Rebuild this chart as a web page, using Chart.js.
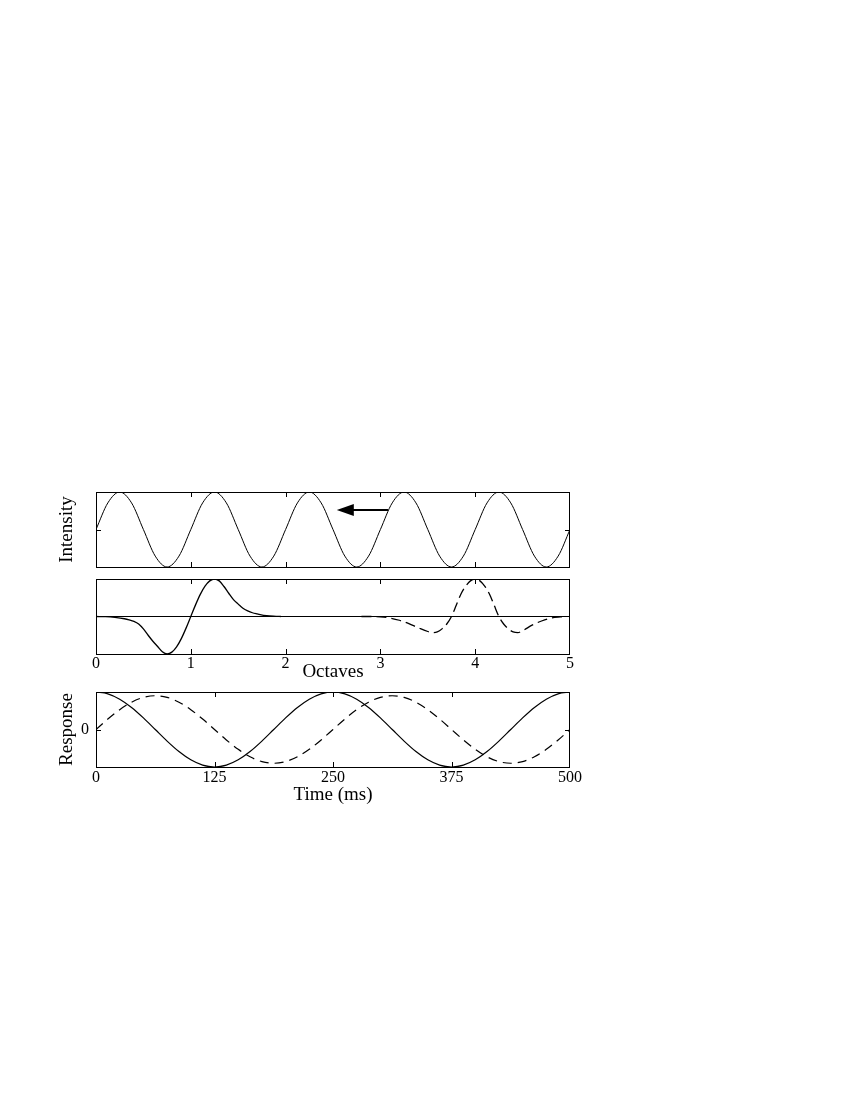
<!DOCTYPE html>
<html>
<head>
<meta charset="utf-8">
<script src="https://cdn.jsdelivr.net/npm/chart.js@4/dist/chart.umd.min.js"></script>
<style>
  html, body { margin: 0; padding: 0; background: #fff; width: 850px; height: 1100px; overflow: hidden; }
  canvas { position: absolute; left: 0; }
</style>
</head>
<body>
<canvas id="c1" width="850" height="105" style="top:470px"></canvas>
<canvas id="c2" width="850" height="115" style="top:575px"></canvas>
<canvas id="c3" width="850" height="130" style="top:690px"></canvas>
<script>
// ---------- DATA ----------
const octaveTicks = [0, 1, 2, 3, 4, 5];
const timeTicks = [0, 125, 250, 375, 500];
const intensityYTicks = [-1, 0, 1];
const responseYTicks = [-1, -0.5, 0, 0.5, 1];
const responseYLabels = ['', '', '0', '', ''];

// Panel 1: stimulus intensity (octaves)
const intensityX = [0,0.125,0.25,0.375,0.5,0.625,0.75,0.875,1,1.125,1.25,1.375,1.5,1.625,1.75,1.875,2,2.125,2.25,2.375,2.5,2.625,2.75,2.875,3,3.125,3.25,3.375,3.5,3.625,3.75,3.875,4,4.125,4.25,4.375,4.5,4.625,4.75,4.875,5];
const intensityY = [0,0.71,1,0.71,0,-0.71,-1,-0.71, 0,0.71,1,0.71,0,-0.71,-1,-0.71, 0,0.71,1,0.71,0,-0.71,-1,-0.71, 0,0.71,1,0.71,0,-0.71,-1,-0.71, 0,0.71,1,0.71,0,-0.71,-1,-0.71, 0];
// arrow (data units)
const arrowFrom = [3.08, 0.52];
const arrowTo = [2.54, 0.52];

// Panel 2: spectral response fields (octaves)
const solidFieldX = [0,0.1,0.2,0.3,0.35,0.4,0.45,0.5,0.55,0.6,0.65,0.7,0.75,0.8,0.85,0.9,0.95,1.0,1.05,1.1,1.15,1.2,1.25,1.3,1.35,1.4,1.45,1.5,1.55,1.6,1.65,1.7,1.8,1.9,1.95];
const solidFieldY = [0,-0.005,-0.025,-0.06,-0.09,-0.13,-0.2,-0.33,-0.5,-0.66,-0.8,-0.94,-1,-0.95,-0.81,-0.59,-0.31,0,0.31,0.59,0.81,0.95,1,0.95,0.8,0.62,0.45,0.33,0.22,0.15,0.1,0.07,0.02,0.005,0];
const dashedFieldX = [2.8,2.9,3.0,3.1,3.2,3.3,3.4,3.5,3.55,3.6,3.65,3.7,3.75,3.8,3.85,3.9,3.95,4.0,4.05,4.1,4.15,4.2,4.25,4.3,4.35,4.4,4.45,4.5,4.6,4.7,4.8,4.9,4.95];
const dashedFieldY = [0,0,-0.01,-0.04,-0.1,-0.19,-0.3,-0.4,-0.43,-0.41,-0.33,-0.2,0,0.3,0.6,0.81,0.95,1,0.95,0.81,0.6,0.3,0,-0.2,-0.33,-0.41,-0.43,-0.38,-0.23,-0.12,-0.04,-0.01,0];

// Panel 3: responses over time (ms)
const timeX = [0,12.5,25,37.5,50,62.5,75,87.5,100,112.5,125,137.5,150,162.5,175,187.5,200,212.5,225,237.5,250,262.5,275,287.5,300,312.5,325,337.5,350,362.5,375,387.5,400,412.5,425,437.5,450,462.5,475,487.5,500];
const responseSolid = [1,0.951,0.809,0.588,0.309,0,-0.309,-0.588,-0.809,-0.951,-1,-0.951,-0.809,-0.588,-0.309,0,0.309,0.588,0.809,0.951,1,0.951,0.809,0.588,0.309,0,-0.309,-0.588,-0.809,-0.951,-1,-0.951,-0.809,-0.588,-0.309,0,0.309,0.588,0.809,0.951,1];
const responseDashed = [0,0.278,0.529,0.728,0.856,0.9,0.856,0.728,0.529,0.278,0,-0.278,-0.529,-0.728,-0.856,-0.9,-0.856,-0.728,-0.529,-0.278,0,0.278,0.529,0.728,0.856,0.9,0.856,0.728,0.529,0.278,0,-0.278,-0.529,-0.728,-0.856,-0.9,-0.856,-0.728,-0.529,-0.278,0];

// ---------- HELPERS ----------
const FONT = "'Liberation Serif', 'Times New Roman', serif";
const pts = (xs, ys) => xs.map((x, i) => ({ x: x, y: ys[i] }));
const setTicks = arr => scale => { scale.ticks = arr.map(v => ({ value: v })); };
const noPad = s => { s.paddingTop = 0; s.paddingBottom = 0; s.paddingLeft = 0; s.paddingRight = 0; };

const frameAndTicks = {
  id: 'frameAndTicks',
  afterDatasetsDraw(chart, args, opts) {
    const { ctx, chartArea: a } = chart;
    const len = 5;
    ctx.save();
    ctx.strokeStyle = '#000';
    ctx.lineWidth = 1;
    ctx.beginPath();
    if (opts.xTicks) {
      const xs = chart.scales.x;
      xs.ticks.forEach(t => {
        if (t.value <= xs.min || t.value >= xs.max) return;
        const px = Math.round(xs.getPixelForValue(t.value)) + 0.5;
        ctx.moveTo(px, a.top); ctx.lineTo(px, a.top + len);
        ctx.moveTo(px, a.bottom); ctx.lineTo(px, a.bottom - len);
      });
    }
    if (opts.yTicks) {
      const ys = chart.scales.y;
      ys.ticks.forEach(t => {
        if (t.value <= ys.min || t.value >= ys.max) return;
        const py = Math.round(ys.getPixelForValue(t.value)) + 0.5;
        ctx.moveTo(a.left, py); ctx.lineTo(a.left + len, py);
        ctx.moveTo(a.right, py); ctx.lineTo(a.right - len, py);
      });
    }
    ctx.stroke();
    ctx.strokeRect(Math.round(a.left) + 0.5, Math.round(a.top) + 0.5,
                   Math.round(a.right - a.left) - 1, Math.round(a.bottom - a.top));
    ctx.restore();
  }
};

const arrowPlugin = {
  id: 'arrowPlugin',
  afterDatasetsDraw(chart, args, opts) {
    if (!opts.from) return;
    const { ctx, scales: { x, y } } = chart;
    const x0 = x.getPixelForValue(opts.from[0]), y0 = y.getPixelForValue(opts.from[1]);
    const x1 = x.getPixelForValue(opts.to[0]), y1 = y.getPixelForValue(opts.to[1]);
    const head = 17, half = 6;
    ctx.save();
    ctx.strokeStyle = '#000';
    ctx.fillStyle = '#000';
    ctx.lineWidth = 2;
    ctx.beginPath();
    ctx.moveTo(x0, y0); ctx.lineTo(x1 + head - 2, y1);
    ctx.stroke();
    ctx.beginPath();
    ctx.moveTo(x1, y1);
    ctx.lineTo(x1 + head, y1 - half);
    ctx.lineTo(x1 + head, y1 + half);
    ctx.closePath();
    ctx.fill();
    ctx.restore();
  }
};

function baseOptions(o) {
  return {
    responsive: false,
    animation: false,
    events: [],
    layout: { padding: o.padding },
    plugins: {
      legend: { display: false },
      tooltip: { enabled: false },
      frameAndTicks: o.ticksOpt,
      arrowPlugin: o.arrow || {}
    },
    elements: { point: { radius: 0 } },
    scales: {
      x: {
        type: 'linear',
        min: o.xMin, max: o.xMax,
        afterBuildTicks: setTicks(o.xTicks),
        afterFit: s => { s.height = o.xHeight; noPad(s); },
        grid: { display: false, drawTicks: false },
        border: { display: false },
        ticks: {
          display: o.xLabels,
          padding: o.xTickPad || 0,
          color: '#000',
          maxRotation: 0,
          autoSkip: false,
          font: { family: FONT, size: 16, lineHeight: 1 }
        },
        title: {
          display: !!o.xTitle,
          text: o.xTitle || '',
          color: '#000',
          padding: { top: 0, bottom: 1 },
          font: { family: FONT, size: 19 }
        }
      },
      y: {
        type: 'linear',
        min: -1, max: 1,
        afterBuildTicks: setTicks(o.yTicks),
        afterFit: s => { s.width = 46; noPad(s); },
        grid: o.yGrid || { display: false, drawTicks: false },
        border: { display: false },
        ticks: {
          display: !!o.yLabels,
          padding: 7,
          color: '#000',
          callback: (v, i) => (o.yLabels ? o.yLabels[i] : ''),
          font: { family: FONT, size: 16 }
        },
        title: {
          display: !!o.yTitle,
          text: o.yTitle || '',
          color: '#000',
          padding: { top: 6, bottom: 0 },
          font: { family: FONT, size: 19 }
        }
      }
    }
  };
}

const lineDs = (data, width, dash) => ({
  data: data,
  borderColor: '#000',
  borderWidth: width,
  borderDash: dash || [],
  fill: false,
  cubicInterpolationMode: 'monotone',
  pointRadius: 0
});

// ---------- PANEL 1 ----------
new Chart(document.getElementById('c1'), {
  type: 'line',
  data: { datasets: [lineDs(pts(intensityX, intensityY), 1)] },
  options: baseOptions({
    padding: { left: 50, right: 280, top: 22, bottom: 8 },
    xMin: 0, xMax: 5, xTicks: octaveTicks, xLabels: false, xHeight: 0,
    yTicks: intensityYTicks, yTitle: 'Intensity',
    ticksOpt: { xTicks: true, yTicks: true },
    arrow: { from: arrowFrom, to: arrowTo }
  }),
  plugins: [frameAndTicks, arrowPlugin]
});

// ---------- PANEL 2 ----------
new Chart(document.getElementById('c2'), {
  type: 'line',
  data: { datasets: [
    lineDs(pts(solidFieldX, solidFieldY), 1.3),
    lineDs(pts(dashedFieldX, dashedFieldY), 1.3, [10, 5])
  ] },
  options: baseOptions({
    padding: { left: 50, right: 280, top: 4, bottom: 6 },
    xMin: 0, xMax: 5, xTicks: octaveTicks, xLabels: true, xHeight: 30, xTickPad: 2,
    xTitle: 'Octaves',
    yTicks: intensityYTicks,
    yGrid: { display: true, drawTicks: false, lineWidth: 1,
             color: c => (c.tick && c.tick.value === 0 ? '#000' : 'rgba(0,0,0,0)') },
    ticksOpt: { xTicks: true, yTicks: false }
  }),
  plugins: [frameAndTicks]
});

// ---------- PANEL 3 ----------
new Chart(document.getElementById('c3'), {
  type: 'line',
  data: { datasets: [
    lineDs(pts(timeX, responseSolid), 1.2),
    lineDs(pts(timeX, responseDashed), 1.2, [9, 6])
  ] },
  options: baseOptions({
    padding: { left: 50, right: 280, top: 2, bottom: 13 },
    xMin: 0, xMax: 500, xTicks: timeTicks, xLabels: true, xHeight: 40, xTickPad: 3,
    xTitle: 'Time (ms)',
    yTicks: responseYTicks, yLabels: responseYLabels, yTitle: 'Response',
    ticksOpt: { xTicks: true, yTicks: true }
  }),
  plugins: [frameAndTicks]
});
</script>
</body>
</html>
